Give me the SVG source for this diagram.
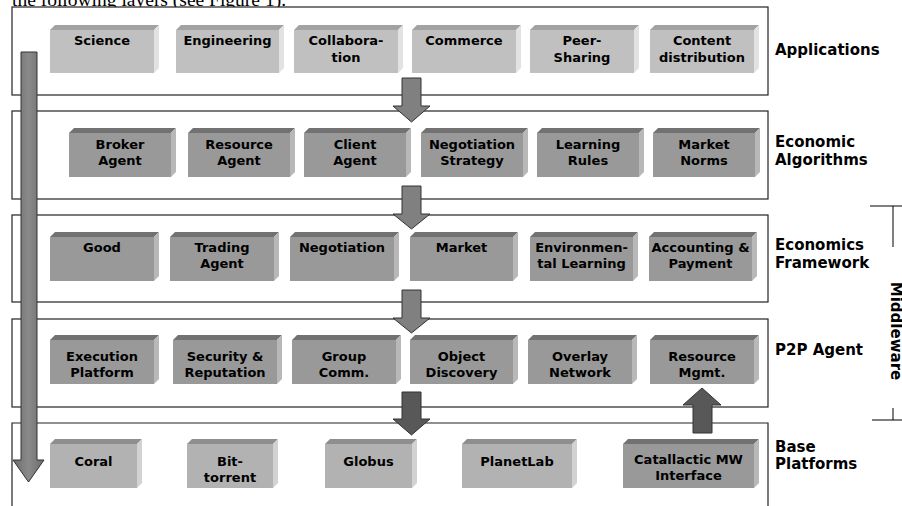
<svg xmlns="http://www.w3.org/2000/svg" width="902" height="506" viewBox="0 0 902 506">
  <style>
    .layer { fill: #ffffff; stroke: #222222; stroke-width: 1.2; }
    .lbl { font-family: "DejaVu Sans", Verdana, sans-serif; font-weight: bold; font-size: 15px; fill: #000000; }
    .nt { font-family: "DejaVu Sans", Verdana, sans-serif; font-weight: bold; font-size: 13px; fill: #000000; text-anchor: middle; }
    .light .front { fill: #c0c0c0; } .light .top { fill: #a2a2a2; } .light .side { fill: #e2e2e2; }
    .mid .front { fill: #999999; } .mid .top { fill: #727272; } .mid .side { fill: #b8b8b8; }
    .base .front { fill: #b2b2b2; } .base .top { fill: #8e8e8e; } .base .side { fill: #d2d2d2; }
    .arrow { stroke: #333333; stroke-width: 1; }
    .a-light { fill: #808080; }
    .a-dark { fill: #585858; }
    .bracket { stroke: #000000; stroke-width: 1; fill: none; }
  </style>
  <defs>
    <linearGradient id="gBig" x1="0" y1="0" x2="1" y2="0">
      <stop offset="0" stop-color="#6c6c6c"/>
      <stop offset="0.5" stop-color="#8a8a8a"/>
      <stop offset="1" stop-color="#6c6c6c"/>
    </linearGradient>
  </defs>

  <rect width="902" height="506" fill="#ffffff"/>

  <!-- running text above the figure -->
  <text x="12" y="6" font-family="Liberation Serif, Times New Roman, serif" font-size="19.5">the following layers (see Figure 1).</text>

  <!-- layer frames -->
  <g id="layers">
    <rect class="layer" x="12" y="7" width="756" height="88"/>
    <rect class="layer" x="12" y="111" width="756" height="88"/>
    <rect class="layer" x="12" y="215" width="756" height="87"/>
    <rect class="layer" x="12" y="319" width="756" height="88"/>
    <path class="layer" d="M12,520 V423 H768 V520"/>
  </g>

  <!-- layer labels -->
  <g id="labels">
    <text class="lbl" x="775" y="55">Applications</text>
    <text class="lbl" x="775" y="147">Economic</text>
    <text class="lbl" x="775" y="165">Algorithms</text>
    <text class="lbl" x="775" y="250">Economics</text>
    <text class="lbl" x="775" y="268">Framework</text>
    <text class="lbl" x="775" y="355">P2P Agent</text>
    <text class="lbl" x="775" y="452">Base</text>
    <text class="lbl" x="775" y="469">Platforms</text>
  </g>

  <!-- middleware bracket -->
  <g id="middleware">
    <path class="bracket" d="M870,206 H902 M893,206 V247 M893,408 V420 M872,420 H902"/>
    <text class="lbl" transform="translate(891,331) rotate(90)" text-anchor="middle">Middleware</text>
  </g>

  <!-- Applications layer -->
  <g id="n-science" class="light">
    <polygon class="top" points="50,30 55,25 159,25 154,30"/>
    <polygon class="side" points="154,30 159,25 159,68 154,73"/>
    <rect class="front" x="50" y="30" width="104" height="43"/>
    <text class="nt" x="102" y="45">Science</text>
  </g>
  <g id="n-engineering" class="light">
    <polygon class="top" points="176,30 181,25 284,25 279,30"/>
    <polygon class="side" points="279,30 284,25 284,68 279,73"/>
    <rect class="front" x="176" y="30" width="103" height="43"/>
    <text class="nt" x="227.5" y="45">Engineering</text>
  </g>
  <g id="n-collaboration" class="light">
    <polygon class="top" points="294,30 299,25 403,25 398,30"/>
    <polygon class="side" points="398,30 403,25 403,68 398,73"/>
    <rect class="front" x="294" y="30" width="104" height="43"/>
    <text class="nt" x="346" y="45">Collabora-</text>
    <text class="nt" x="346" y="62">tion</text>
  </g>
  <g id="n-commerce" class="light">
    <polygon class="top" points="412,30 417,25 521,25 516,30"/>
    <polygon class="side" points="516,30 521,25 521,68 516,73"/>
    <rect class="front" x="412" y="30" width="104" height="43"/>
    <text class="nt" x="464" y="45">Commerce</text>
  </g>
  <g id="n-peer" class="light">
    <polygon class="top" points="530,30 535,25 639,25 634,30"/>
    <polygon class="side" points="634,30 639,25 639,68 634,73"/>
    <rect class="front" x="530" y="30" width="104" height="43"/>
    <text class="nt" x="582" y="45">Peer-</text>
    <text class="nt" x="582" y="62">Sharing</text>
  </g>
  <g id="n-content" class="light">
    <polygon class="top" points="650,30 655,25 759,25 754,30"/>
    <polygon class="side" points="754,30 759,25 759,68 754,73"/>
    <rect class="front" x="650" y="30" width="104" height="43"/>
    <text class="nt" x="702" y="45">Content</text>
    <text class="nt" x="702" y="62">distribution</text>
  </g>

  <!-- Economic Algorithms layer -->
  <g id="n-broker" class="mid">
    <polygon class="top" points="69,133 74,128 176,128 171,133"/>
    <polygon class="side" points="171,133 176,128 176,172 171,177"/>
    <rect class="front" x="69" y="133" width="102" height="44"/>
    <text class="nt" x="120" y="149">Broker</text>
    <text class="nt" x="120" y="165">Agent</text>
  </g>
  <g id="n-resource-agent" class="mid">
    <polygon class="top" points="188,133 193,128 295,128 290,133"/>
    <polygon class="side" points="290,133 295,128 295,172 290,177"/>
    <rect class="front" x="188" y="133" width="102" height="44"/>
    <text class="nt" x="239" y="149">Resource</text>
    <text class="nt" x="239" y="165">Agent</text>
  </g>
  <g id="n-client" class="mid">
    <polygon class="top" points="304,133 309,128 411,128 406,133"/>
    <polygon class="side" points="406,133 411,128 411,172 406,177"/>
    <rect class="front" x="304" y="133" width="102" height="44"/>
    <text class="nt" x="355" y="149">Client</text>
    <text class="nt" x="355" y="165">Agent</text>
  </g>
  <g id="n-negotiation-strategy" class="mid">
    <polygon class="top" points="421,133 426,128 528,128 523,133"/>
    <polygon class="side" points="523,133 528,128 528,172 523,177"/>
    <rect class="front" x="421" y="133" width="102" height="44"/>
    <text class="nt" x="472" y="149">Negotiation</text>
    <text class="nt" x="472" y="165">Strategy</text>
  </g>
  <g id="n-learning-rules" class="mid">
    <polygon class="top" points="537,133 542,128 644,128 639,133"/>
    <polygon class="side" points="639,133 644,128 644,172 639,177"/>
    <rect class="front" x="537" y="133" width="102" height="44"/>
    <text class="nt" x="588" y="149">Learning</text>
    <text class="nt" x="588" y="165">Rules</text>
  </g>
  <g id="n-market-norms" class="mid">
    <polygon class="top" points="653,133 658,128 760,128 755,133"/>
    <polygon class="side" points="755,133 760,128 760,172 755,177"/>
    <rect class="front" x="653" y="133" width="102" height="44"/>
    <text class="nt" x="704" y="149">Market</text>
    <text class="nt" x="704" y="165">Norms</text>
  </g>

  <!-- Economics Framework layer -->
  <g id="n-good" class="mid">
    <polygon class="top" points="50,237 55,232 159,232 154,237"/>
    <polygon class="side" points="154,237 159,232 159,276 154,281"/>
    <rect class="front" x="50" y="237" width="104" height="44"/>
    <text class="nt" x="102" y="252">Good</text>
  </g>
  <g id="n-trading-agent" class="mid">
    <polygon class="top" points="170,237 175,232 279,232 274,237"/>
    <polygon class="side" points="274,237 279,232 279,276 274,281"/>
    <rect class="front" x="170" y="237" width="104" height="44"/>
    <text class="nt" x="222" y="252">Trading</text>
    <text class="nt" x="222" y="268">Agent</text>
  </g>
  <g id="n-negotiation" class="mid">
    <polygon class="top" points="290,237 295,232 399,232 394,237"/>
    <polygon class="side" points="394,237 399,232 399,276 394,281"/>
    <rect class="front" x="290" y="237" width="104" height="44"/>
    <text class="nt" x="342" y="252">Negotiation</text>
  </g>
  <g id="n-market" class="mid">
    <polygon class="top" points="410,237 415,232 518,232 513,237"/>
    <polygon class="side" points="513,237 518,232 518,276 513,281"/>
    <rect class="front" x="410" y="237" width="103" height="44"/>
    <text class="nt" x="461.5" y="252">Market</text>
  </g>
  <g id="n-env-learning" class="mid">
    <polygon class="top" points="530,237 535,232 638,232 633,237"/>
    <polygon class="side" points="633,237 638,232 638,276 633,281"/>
    <rect class="front" x="530" y="237" width="103" height="44"/>
    <text class="nt" x="581.5" y="252">Environmen-</text>
    <text class="nt" x="581.5" y="268">tal Learning</text>
  </g>
  <g id="n-accounting" class="mid">
    <polygon class="top" points="649,237 654,232 757,232 752,237"/>
    <polygon class="side" points="752,237 757,232 757,276 752,281"/>
    <rect class="front" x="649" y="237" width="103" height="44"/>
    <text class="nt" x="700.5" y="252">Accounting &amp;</text>
    <text class="nt" x="700.5" y="268">Payment</text>
  </g>

  <!-- P2P Agent layer -->
  <g id="n-execution" class="mid">
    <polygon class="top" points="50,340 55,335 159,335 154,340"/>
    <polygon class="side" points="154,340 159,335 159,379 154,384"/>
    <rect class="front" x="50" y="340" width="104" height="44"/>
    <text class="nt" x="102" y="361">Execution</text>
    <text class="nt" x="102" y="377">Platform</text>
  </g>
  <g id="n-security" class="mid">
    <polygon class="top" points="173,340 178,335 282,335 277,340"/>
    <polygon class="side" points="277,340 282,335 282,379 277,384"/>
    <rect class="front" x="173" y="340" width="104" height="44"/>
    <text class="nt" x="225" y="361">Security &amp;</text>
    <text class="nt" x="225" y="377">Reputation</text>
  </g>
  <g id="n-group" class="mid">
    <polygon class="top" points="292,340 297,335 401,335 396,340"/>
    <polygon class="side" points="396,340 401,335 401,379 396,384"/>
    <rect class="front" x="292" y="340" width="104" height="44"/>
    <text class="nt" x="344" y="361">Group</text>
    <text class="nt" x="344" y="377">Comm.</text>
  </g>
  <g id="n-object" class="mid">
    <polygon class="top" points="410,340 415,335 518,335 513,340"/>
    <polygon class="side" points="513,340 518,335 518,379 513,384"/>
    <rect class="front" x="410" y="340" width="103" height="44"/>
    <text class="nt" x="461.5" y="361">Object</text>
    <text class="nt" x="461.5" y="377">Discovery</text>
  </g>
  <g id="n-overlay" class="mid">
    <polygon class="top" points="528,340 533,335 637,335 632,340"/>
    <polygon class="side" points="632,340 637,335 637,379 632,384"/>
    <rect class="front" x="528" y="340" width="104" height="44"/>
    <text class="nt" x="580" y="361">Overlay</text>
    <text class="nt" x="580" y="377">Network</text>
  </g>
  <g id="n-resource-mgmt" class="mid">
    <polygon class="top" points="650,340 655,335 759,335 754,340"/>
    <polygon class="side" points="754,340 759,335 759,379 754,384"/>
    <rect class="front" x="650" y="340" width="104" height="44"/>
    <text class="nt" x="702" y="361">Resource</text>
    <text class="nt" x="702" y="377">Mgmt.</text>
  </g>

  <!-- Base Platforms layer -->
  <g id="n-coral" class="base">
    <polygon class="top" points="50,444 55,439 142,439 137,444"/>
    <polygon class="side" points="137,444 142,439 142,483 137,488"/>
    <rect class="front" x="50" y="444" width="87" height="44"/>
    <text class="nt" x="93.5" y="466">Coral</text>
  </g>
  <g id="n-bittorrent" class="base">
    <polygon class="top" points="187,444 192,439 278,439 273,444"/>
    <polygon class="side" points="273,444 278,439 278,483 273,488"/>
    <rect class="front" x="187" y="444" width="86" height="44"/>
    <text class="nt" x="230" y="466">Bit-</text>
    <text class="nt" x="230" y="482">torrent</text>
  </g>
  <g id="n-globus" class="base">
    <polygon class="top" points="325,444 330,439 417,439 412,444"/>
    <polygon class="side" points="412,444 417,439 417,483 412,488"/>
    <rect class="front" x="325" y="444" width="87" height="44"/>
    <text class="nt" x="368.5" y="466">Globus</text>
  </g>
  <g id="n-planetlab" class="base">
    <polygon class="top" points="462,444 467,439 577,439 572,444"/>
    <polygon class="side" points="572,444 577,439 577,483 572,488"/>
    <rect class="front" x="462" y="444" width="110" height="44"/>
    <text class="nt" x="517" y="466">PlanetLab</text>
  </g>
  <g id="n-catallactic" class="mid">
    <polygon class="top" points="623,444 628,439 759,439 754,444"/>
    <polygon class="side" points="754,444 759,439 759,483 754,488"/>
    <rect class="front" x="623" y="444" width="131" height="44"/>
    <text class="nt" x="688.5" y="464">Catallactic MW</text>
    <text class="nt" x="688.5" y="480">Interface</text>
  </g>

  <!-- connectors: block arrows between layers -->
  <g id="connectors">
    <path class="arrow" fill="url(#gBig)" d="M21,52 H37 V460 H44 L28.5,482 L13,460 H21 Z"/>
    <path class="arrow a-light" d="M402,78 H421 V106 H430 L411.5,122 L393,106 H402 Z"/>
    <path class="arrow a-light" d="M402,186 H421 V214 H430 L411.5,229 L393,214 H402 Z"/>
    <path class="arrow a-light" d="M402,290 H421 V318 H430 L411.5,333 L393,318 H402 Z"/>
    <path class="arrow a-dark" d="M402,392 H421 V419 H430 L411.5,435 L393,419 H402 Z"/>
    <path class="arrow a-dark" d="M693,433 H712 V405 H721 L702,388 L683,405 H693 Z"/>
  </g>
</svg>
